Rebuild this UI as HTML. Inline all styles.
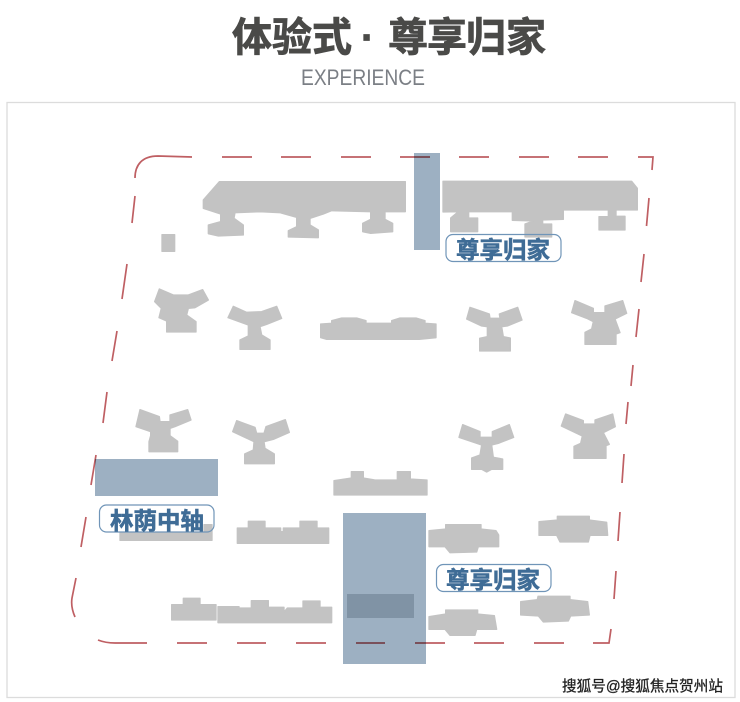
<!DOCTYPE html>
<html><head><meta charset="utf-8">
<style>
html,body{margin:0;padding:0;background:#fff;}
svg{display:block;}
.t{font-family:"Liberation Sans","Noto Sans CJK SC",sans-serif;font-weight:700;}
</style></head><body>
<svg width="740" height="702" viewBox="0 0 740 702" xmlns="http://www.w3.org/2000/svg">
<defs><filter id="b" x="-5%" y="-5%" width="110%" height="110%"><feGaussianBlur stdDeviation="0.35"/></filter></defs>
<rect width="740" height="702" fill="#fff"/>
<rect x="7" y="102.500" width="728" height="595" fill="none" stroke="#dcdcdc" stroke-width="1.300"/>

<g class="t" font-size="40" fill="#4a4a48" stroke="#4a4a48" stroke-width=".8">
<text x="232" y="51">体</text><text x="272" y="51">验</text><text x="312" y="51">式</text>
<text x="361" y="51">·</text>
<text x="388" y="51">尊</text><text x="427" y="51">享</text><text x="466" y="51">归</text><text x="506" y="51">家</text>
</g>
<text x="301" y="85" font-family="Liberation Sans,sans-serif" font-size="22.500" fill="#7b7f85" textLength="124" lengthAdjust="spacingAndGlyphs">EXPERIENCE</text>

<g fill="#c3c3c3" stroke="#c3c3c3" stroke-width="4" stroke-linejoin="round" filter="url(#b)">
<g transform="translate(130,140) scale(.33333)">
<path d="M268,125L826,125L826,215L765,215L765,238L788,250L788,275L722,280L698,275L698,250L722,238L722,215L605,212L580,222L540,235L540,255L565,270L565,293L475,291L475,272L500,260L500,232L450,218L390,215L315,218L312,235L340,255L340,285L265,288L235,281L235,255L272,245L272,222L220,205L220,180Z"/>
<rect x="96" y="284" width="38" height="50"/>
<path d="M88,447L130,465L175,465L218,449L235,480L195,503L175,505L170,525L198,545L198,576L110,576L110,543L87,533L94,505L74,485Z"/>
<path d="M310,499L350,517L395,515L440,499L455,535L410,553L390,560L395,585L420,600L420,628L330,628L330,600L355,588L355,555L294,533Z"/>
<path d="M572,552L605,550L605,542L635,534L680,534L708,542L708,550L785,550L785,542L810,534L858,534L885,542L885,550L918,552L918,593L868,598L590,598L572,593Z"/>
</g>
<g transform="translate(430,140) scale(.33333)">
<path d="M39,124L605,124L622,145L622,210L558,210L558,229L585,229L585,270L507,270L507,230L535,230L535,210L400,210L400,238L338,240L338,252L365,252L365,291L285,291L285,252L310,243L247,241L247,215L180,215L116,215L116,234L143,234L143,275L62,275L62,234L85,215L39,216Z"/>
<path d="M120,502L178,522L180,535L210,535L208,522L263,502L276,540L232,558L215,560L220,590L241,594L241,633L149,633L149,595L172,590L172,560L155,558L110,537Z"/>
<path d="M435,482L490,505L490,518L525,518L525,498L578,482L590,520L555,537L570,578L558,582L558,613L465,613L465,577L485,567L490,545L470,535L425,518Z"/>
</g>
<g transform="translate(60,400) scale(.33333)">
<path d="M240,29L298,50L300,65L330,65L330,45L383,29L393,60L345,80L330,85L330,107L353,124L353,155L267,155L267,125L272,107L272,95L228,80Z"/>
<path d="M530,62L585,82L590,100L612,100L618,80L676,59L688,97L640,118L612,125L615,145L643,162L643,191L554,191L554,162L580,150L582,125L518,95Z"/>
<path d="M180,397L432,397L432,374L456,374L456,421L180,421Z"/>
<path d="M532,384L565,384L565,364L615,364L615,384L662,384L662,395L670,395L670,384L720,384L720,364L771,364L771,384L806,384L806,430L532,430Z"/>
<path d="M335,614L370,614L370,595L420,595L420,614L468,614L468,660L335,660Z"/>
<path d="M474,620L537,620L537,624L574,624L574,602L625,602L625,622L672,622L672,636L682,624L729,624L729,603L780,603L780,622L815,622L815,668L474,668Z"/>
</g>
<g transform="translate(330,400) scale(.33333)">
<path d="M12,242L64,234L64,215L100,215L100,234L135,240L202,240L202,215L241,215L241,237L291,240L291,285L12,285Z"/>
<path d="M398,74L450,95L450,112L487,112L487,95L538,74L551,112L505,130L485,135L490,172L518,177L518,208L485,208L470,216L455,208L425,208L425,174L450,165L455,135L387,112Z"/>
<path d="M707,42L760,62L760,72L795,72L795,60L848,42L856,80L820,98L838,133L828,137L828,175L732,175L732,139L752,130L757,108L694,78Z"/>
<path d="M297,392L347,387L347,374L453,374L453,387L498,392L506,405L506,440L445,440L440,456L360,458L345,440L297,440Z"/>
<path d="M627,365L682,360L682,349L778,349L778,360L830,367L833,406L780,406L775,426L690,426L680,406L627,406Z"/>
<path d="M572,605L622,599L624,589L720,589L720,599L773,605L778,645L722,648L715,663L640,666L625,648L572,645Z"/>
<path d="M297,650L347,642L347,630L443,630L443,642L493,647L500,688L440,688L435,706L360,706L345,688L297,688Z"/>
</g>
</g>

<g fill="none" stroke="#bf5f63" stroke-width="1.700">
<path d="M135,178C135,165 142,156 158,156L192,157"/>
<path d="M222,157H252M281,157H311M341,157H371M400,157H430M459,157H489M519,157H549M578,157H608M638,157H653L652,170"/>
<path d="M649,198L646.500,226M644,254L641,282M639,309L636,337M633,365L631,386M628,402L626,424M624,454L622,483M620,512L618,541M616,571L614,599"/>
<path d="M611,629L609,643H593M564,643H534M504,643H474M445,643H415M385,643H356M326,643H296M266,643H237M207,643H177M147,643H115C108,643 103,642 98,640"/>
<path d="M75,617C72,610 71,604 72,598L76,578M81,547L86,517M91,485L96,455M103,423L107,392M112,361L117,331M122,299L127,264M132,223L135,196"/>
</g>

<g filter="url(#b)" style="mix-blend-mode:multiply">
<rect x="414" y="153" width="26" height="97" fill="#9db0c2"/>
<rect x="95" y="459" width="123" height="37" fill="#9db0c2"/>
<rect x="343" y="513" width="83" height="151" fill="#9db0c2"/>
<rect x="347" y="594" width="67" height="24" fill="#8093a5"/>
</g>

<g fill="none" stroke="#7095b8" stroke-width="1.200">
<rect x="446" y="234.500" width="115" height="27" rx="7"/>
<rect x="99.500" y="505" width="114.500" height="27" rx="7"/>
<rect x="436.500" y="564.500" width="114.500" height="27" rx="7"/>
</g>
<g class="t" font-size="23.500" fill="#3f6c96" stroke="#3f6c96" stroke-width=".6">
<text x="456" y="258" textLength="94" lengthAdjust="spacingAndGlyphs">尊享归家</text>
<text x="110" y="529" textLength="94" lengthAdjust="spacingAndGlyphs">林荫中轴</text>
<text x="446" y="588" textLength="94" lengthAdjust="spacingAndGlyphs">尊享归家</text>
</g>

<text x="562" y="691" font-family="Liberation Sans,Noto Sans CJK SC,sans-serif" font-size="14.800" fill="#222" stroke="#222" stroke-width=".3" textLength="161" lengthAdjust="spacingAndGlyphs">搜狐号@搜狐焦点贺州站</text>
</svg>
</body></html>
